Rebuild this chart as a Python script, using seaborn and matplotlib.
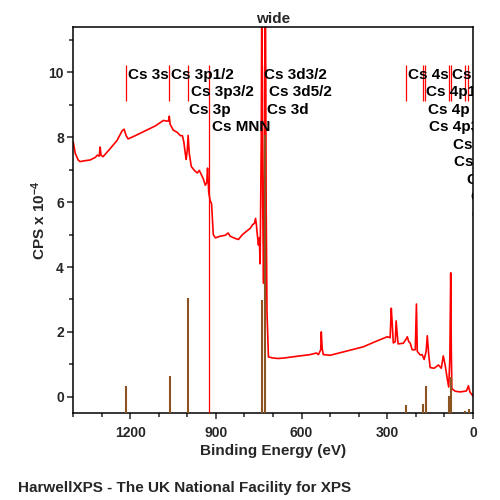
import numpy as np
import pandas as pd
import matplotlib
matplotlib.use('Agg')
import matplotlib.pyplot as plt
import matplotlib.transforms as mtransforms
from matplotlib.ticker import MultipleLocator
import seaborn as sns

# survey spectrum (binding energy eV, CPS x 1e-4)
be = [1399, 1392, 1382, 1375, 1357, 1340, 1322, 1315, 1308, 1305, 1302, 1295,
      1270, 1246, 1228, 1221, 1214, 1207, 1182, 1147, 1112, 1095, 1084, 1073,
      1066, 1063, 1060, 1049, 1035, 1024, 1017, 1012, 1007, 1004, 1000, 997,
      993, 986, 979, 972, 965, 958, 951, 944, 937, 932, 929, 925, 920, 915,
      909, 902, 885, 867, 857, 850, 832, 821, 807, 793, 779, 772, 765, 761,
      758, 755, 751, 748, 745, 741, 739, 736, 733, 730, 727, 724, 721, 716,
      703, 682, 657, 615, 570, 548, 541, 533, 531, 528, 524, 500, 447, 384,
      342, 300, 290, 286, 283, 279, 272, 269, 265, 262, 244, 234, 230, 225,
      220, 213, 202, 198, 195, 185, 178, 171, 164, 160, 155, 150, 136, 121,
      111, 104, 97, 90, 85, 81, 78, 76, 74, 62, 44, 23, 16, 11, 0]
cps = [7.85, 7.5, 7.3, 7.25, 7.28, 7.3, 7.38, 7.45, 7.42, 7.7, 7.45, 7.4,
       7.65, 7.9, 8.2, 8.25, 8.05, 7.95, 8.05, 8.2, 8.35, 8.45, 8.52, 8.5,
       8.5, 8.65, 8.4, 8.22, 8.15, 8.05, 8.05, 7.85, 7.5, 7.32, 7.6, 8.06,
       7.5, 7.1, 7.02, 6.95, 6.9, 6.98, 6.85, 6.72, 6.52, 6.6, 7.05, 6.3, 6.05, 5.95,
       5.0, 4.9, 4.95, 4.98, 5.05, 4.95, 4.88, 4.85, 5.0, 5.1, 5.2, 5.3, 5.35, 5.5,
       5.3, 5.0, 4.68, 4.9, 4.1, 8.0, 13.0, 6.0, 3.5, 7.0, 14.0, 6.0, 2.6, 1.23,
       1.2, 1.18, 1.2, 1.25, 1.3, 1.35, 1.3, 1.45, 2.0, 1.5, 1.3, 1.28, 1.4, 1.54,
       1.7, 1.85, 1.82, 2.73, 2.3, 1.66, 1.7, 2.34, 1.9, 1.63, 1.65, 1.78, 1.85, 1.7,
       1.66, 1.45, 1.45, 2.86, 1.4, 1.29, 1.3, 1.15, 1.4, 1.88, 1.3, 0.9, 0.88, 0.98,
       0.88, 1.26, 0.95, 0.55, 0.3, 1.2, 3.82, 1.5, 0.25, 0.17, 0.15, 0.18, 0.34, 0.15, 0.02]

# reference sticks (brown)
stick_be = [1216, 1062, 999, 739, 727, 233, 176, 164, 85, 78, 27, 15]
stick_top = [0.32, 0.65, 3.05, 2.98, 8.06, -0.25, -0.22, 0.34, 0.01, 0.62, -0.43, -0.37]

# peak labels: text, binding energy, row
label_text = ['Cs 3s', 'Cs 3p1/2', 'Cs 3p3/2', 'Cs 3p', 'Cs MNN',
              'Cs 3d3/2', 'Cs 3d5/2', 'Cs 3d',
              'Cs 4s', 'Cs 4d3/2', 'Cs 4p1/2', 'Cs 4p', 'Cs 5p', 'Cs 4p3/2',
              'Cs 4d5/2', 'Cs 4d', 'Cs 5s', 'Cs 5p1/2', 'Cs 5p3/2']
label_be = [1216, 1063, 995, 1001, 921,
            738, 723, 730,
            236, 81, 172, 166, 7, 163,
            79, 75, 29, 15, 12]
label_row = [0, 0, 1, 2, 3,
             0, 1, 2,
             0, 0, 1, 2, 2, 3,
             4, 5, 6, 7, 8]

# red marker lines
marker_be = [1216, 1063, 999, 739, 727, 233.5, 176, 169, 83, 76, 27, 19]
mnn_be = 923

xticks_major = [1200, 900, 600, 300, 0]

sns.set_style('ticks')
plt.rcParams['font.family'] = ['Liberation Sans', 'DejaVu Sans']
plt.rcParams['font.weight'] = 'bold'
plt.rcParams['axes.labelweight'] = 'bold'
plt.rcParams['axes.titleweight'] = 'bold'
plt.rcParams['mathtext.fontset'] = 'custom'
plt.rcParams['mathtext.rm'] = 'Liberation Sans:bold'
plt.rcParams['mathtext.bf'] = 'Liberation Sans:bold'
plt.rcParams['mathtext.default'] = 'regular'

fig = plt.figure(figsize=(5, 5), dpi=100)
ax = fig.add_axes([0.146, 0.174, 0.8, 0.772])

df = pd.DataFrame({'be': be, 'cps': cps})
sns.lineplot(data=df, x='be', y='cps', color='#ff0000', lw=1.2,
             estimator=None, sort=False, ax=ax, zorder=2)

ax.set_xlim(1400, 0)
ax.set_ylim(-0.5, 11.4)
ymin = ax.get_ylim()[0]

ax.vlines(stick_be, ymin, stick_top, color='#8c5420', lw=1.5, zorder=3)

ax.vlines(marker_be, 9.13, 10.24, color='#ff0000', lw=0.9, zorder=4)
ax.vlines([mnn_be], ymin, 10.24, color='#ff0000', lw=0.9, zorder=4)

# labels are clipped at the frame, as in the original
shift = mtransforms.ScaledTranslation(1.5 / 72, 0, fig.dpi_scale_trans)
for txt, x, r in zip(label_text, label_be, label_row):
    t = ax.text(x, 9.93 - 0.54 * r, txt, ha='left', va='center', fontsize=11,
                fontweight='bold', color='black', transform=ax.transData + shift,
                zorder=5)
    t.set_clip_on(True)
    t.set_clip_path(ax.patch)

ax.xaxis.set_major_locator(MultipleLocator(300))
ax.xaxis.set_minor_locator(MultipleLocator(100))
ax.yaxis.set_major_locator(MultipleLocator(2))
ax.yaxis.set_minor_locator(MultipleLocator(1))
ax.set_xticks(xticks_major)
ax.set_xticklabels([str(v) for v in xticks_major])
ax.tick_params(axis='both', which='major', length=4.5, width=1.1, labelsize=10)
ax.tick_params(axis='both', which='minor', length=3, width=1.1)
ax.tick_params(axis='x', pad=5)
ax.tick_params(axis='y', pad=2)

for sp in ax.spines.values():
    sp.set_linewidth(1.1)
    sp.set_color('black')

ax.set_xlabel('Binding Energy (eV)', fontsize=11, labelpad=3)
ax.set_ylabel(r'CPS x 10$^{-4}$', fontsize=11, labelpad=0)
ax.set_title('wide', fontsize=11, pad=3)

fig.text(0.036, 1 - 488 / 500, 'HarwellXPS - The UK National Facility for XPS',
         fontsize=11, fontweight='bold', ha='left', va='center')

fig.savefig('out.png', dpi=100)
